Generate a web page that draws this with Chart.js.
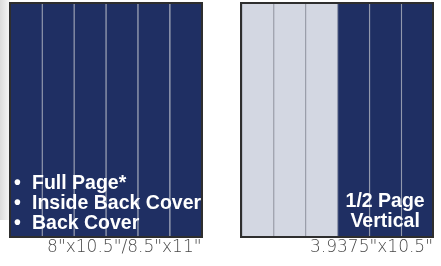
<!DOCTYPE html>
<html>
<head>
<meta charset="utf-8">
<script src="https://cdn.jsdelivr.net/npm/chart.js@4/dist/chart.umd.min.js"></script>
<style>
  html, body { margin: 0; padding: 0; background: #fff; }
  #wrap { position: relative; width: 441px; height: 266px; }
  #shade { position: absolute; left: 0; top: 0; width: 10px; height: 220px;
    background: linear-gradient(to right, #dcdcdc, #f7f7f7); }
  canvas { position: absolute; left: 0; top: 0; }
</style>
</head>
<body>
<div id="wrap">
  <div id="shade"></div>
  <canvas id="adChart" width="441" height="266"></canvas>
</div>
<script>
// page columns, in column units along the sheet
const columnPos = [0.5, 1.5, 2.5, 3.5, 4.5, 5.5, 7.75, 8.75, 9.75, 10.75, 11.75, 12.75];
const columnHeight = [10.5, 10.5, 10.5, 10.5, 10.5, 10.5, 10.5, 10.5, 10.5, 10.5, 10.5, 10.5];
const columnUse = ['ad', 'ad', 'ad', 'ad', 'ad', 'ad', 'free', 'free', 'free', 'ad', 'ad', 'ad'];

// one sheet per ad size
const panelStart = [0, 7.25];
const panelEnd = [6, 13.25];
const panelLabels = ['8"x10.5"/8.5"x11"', '3.9375"x10.5"'];

const fullPageText = ['Full Page*', 'Inside Back Cover', 'Back Cover'];
const halfPageText = ['1/2 Page', 'Vertical'];
const halfPageFrom = 10.25;

const NAVY = '#1f2f63';
const PALE = '#d3d7e2';

var pages = {
  id: 'pages',
  afterDatasetsDraw(chart) {
    const ctx = chart.ctx;
    const x = chart.scales.x, y = chart.scales.y;
    const top = y.getPixelForValue(10.5), bottom = y.getPixelForValue(0);
    ctx.save();
    ctx.strokeStyle = '#2e2e2e';
    ctx.lineWidth = 2;
    for (let i = 0; i < panelStart.length; i++) {
      const l = Math.round(x.getPixelForValue(panelStart[i]));
      const r = Math.round(x.getPixelForValue(panelEnd[i]));
      ctx.strokeRect(l, Math.round(top) + 1, r - l, Math.round(bottom) - Math.round(top) - 1);
    }

    ctx.fillStyle = '#ffffff';
    ctx.font = 'bold 19.5px "Liberation Sans", Arial, sans-serif';
    ctx.textBaseline = 'alphabetic';
    const left = x.getPixelForValue(0);
    fullPageText.forEach((t, i) => {
      const base = bottom - 48 + i * 20;
      ctx.textAlign = 'left';
      ctx.fillText('\u2022', left + 4, base);
      ctx.fillText(t, left + 22, base);
    });

    ctx.textAlign = 'center';
    const cx = (x.getPixelForValue(halfPageFrom) + x.getPixelForValue(13.25)) / 2;
    halfPageText.forEach((t, i) => {
      ctx.fillText(t, cx, bottom - 30 + i * 20);
    });
    ctx.restore();
  }
};

new Chart(document.getElementById('adChart'), {
  type: 'bar',
  data: {
    datasets: [{
      data: columnPos.map((p, i) => ({ x: p, y: columnHeight[i] })),
      backgroundColor: columnUse.map(u => u === 'ad' ? NAVY : PALE),
      borderColor: columnUse.map(u => u === 'ad' ? '#9299ad' : '#9a9eaa'),
      borderWidth: { left: 1.3, right: 0, top: 0, bottom: 0 },
      borderSkipped: false,
      barPercentage: 1,
      categoryPercentage: 1
    }]
  },
  options: {
    responsive: false,
    animation: false,
    events: [],
    layout: { padding: { left: 10, right: 8, top: 2, bottom: 7 } },
    plugins: { legend: { display: false }, tooltip: { enabled: false } },
    scales: {
      x: {
        type: 'linear',
        offset: false,
        min: 0,
        max: 13.25,
        grid: { display: false, drawTicks: false, offset: false },
        border: { display: false },
        afterBuildTicks: (axis) => { axis.ticks = panelEnd.map(v => ({ value: v })); },
        ticks: {
          align: 'end',
          padding: 1,
          color: '#484848',
          font: { family: '"DejaVu Sans", sans-serif', size: 17, weight: 200 },
          callback: (v) => panelLabels[panelEnd.indexOf(v)]
        }
      },
      y: { display: false, min: 0, max: 10.5 }
    }
  },
  plugins: [pages]
});
</script>
</body>
</html>
